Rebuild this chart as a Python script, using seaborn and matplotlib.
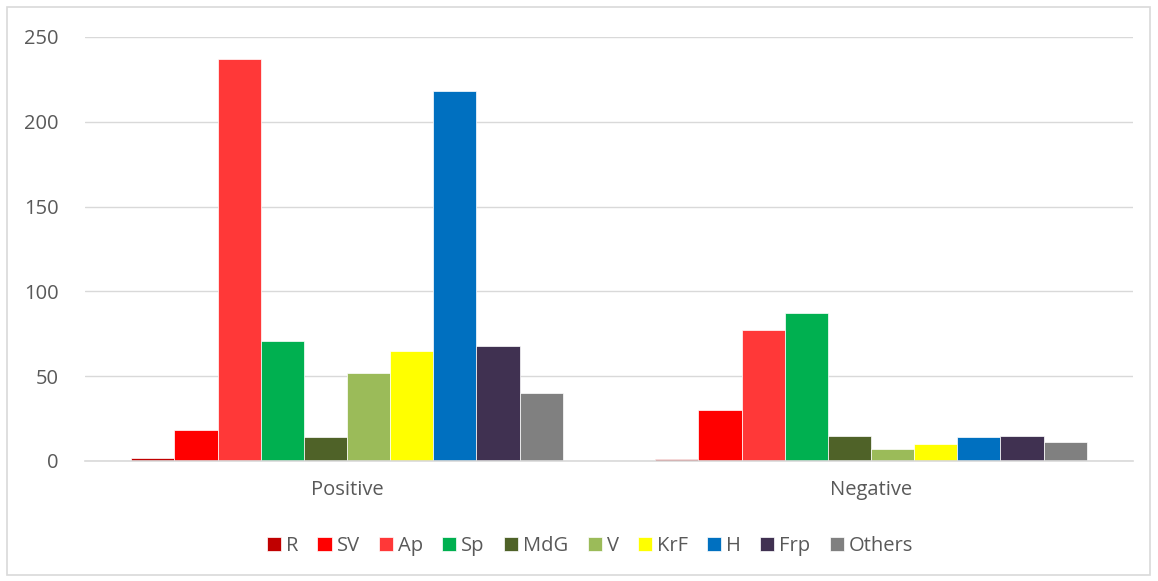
import matplotlib
matplotlib.use("Agg")
import matplotlib.pyplot as plt
import seaborn as sns
import pandas as pd
from matplotlib.patches import Rectangle

categories = ["Positive", "Negative"]
parties = ["R", "SV", "Ap", "Sp", "MdG", "V", "KrF", "H", "Frp", "Others"]
positive = [2, 18, 237, 71, 14, 52, 65, 218, 68, 40]
negative = [1, 30, 77, 87, 15, 7, 10, 14, 15, 11]
colors = ["#C00000", "#FF0000", "#FF3838", "#00B050", "#4F6228",
          "#9BBB59", "#FFFF00", "#0070C0", "#403151", "#808080"]
yticks = [0, 50, 100, 150, 200, 250]

rows = []
for p, v in zip(parties, positive):
    rows.append({"cat": "Positive", "party": p, "value": v})
for p, v in zip(parties, negative):
    rows.append({"cat": "Negative", "party": p, "value": v})
df = pd.DataFrame(rows)

sns.set_theme(style="white")
plt.rcParams["font.family"] = ["Open Sans", "DejaVu Sans"]

fig = plt.figure(figsize=(11.58, 5.81), dpi=100)
ax = fig.add_axes([85/1158, 1-461/581, (1133-85)/1158, (461-37)/581])

sns.barplot(data=df, x="cat", y="value", hue="party", order=categories,
            hue_order=parties, palette=colors, width=0.823, ax=ax,
            edgecolor="white", linewidth=0.5, saturation=1, legend=True)

ax.set_xlim(-0.5, 1.5)
ax.set_ylim(0, 250)
ax.set_yticks(yticks)
ax.yaxis.grid(True, color="#d9d9d9", linewidth=1)
ax.set_axisbelow(True)
for s in ["top", "right", "left"]:
    ax.spines[s].set_visible(False)
ax.spines["bottom"].set_color("#d9d9d9")
ax.spines["bottom"].set_linewidth(1.2)
ax.set_xlabel("")
ax.set_ylabel("")
ax.tick_params(axis="both", length=0, labelsize=14.5, colors="#595959")
ax.tick_params(axis="y", pad=19)
ax.tick_params(axis="x", pad=14)

handles, labels = ax.get_legend_handles_labels()
ax.get_legend().remove()
fig.legend(handles, labels, loc="center", bbox_to_anchor=(590/1158, 1-546/581),
           ncol=10, frameon=False, fontsize=14.5, handlelength=0.7, handleheight=0.7,
           handletextpad=0.25, columnspacing=0.95, labelcolor="#595959")

fig.patches.append(Rectangle((7/1158, 6/581), 1143/1158, 568/581, transform=fig.transFigure,
                             fill=False, edgecolor="#d9d9d9", linewidth=1.2))

fig.savefig("out.png", dpi=100)
